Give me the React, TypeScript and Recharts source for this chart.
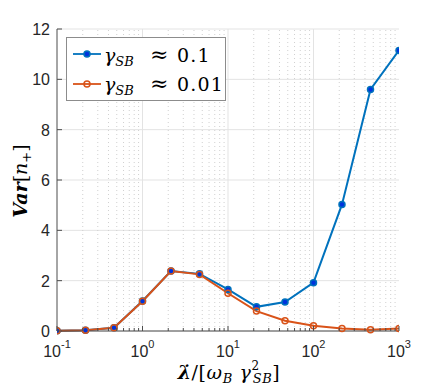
import {
  CartesianGrid,
  Line,
  LineChart,
  ReferenceLine,
  XAxis,
  YAxis,
} from "recharts";

// lambda-dot values, 3 points per decade
const rates = [0.1, 0.2154, 0.4642, 1, 2.154, 4.642, 10, 21.54, 46.42, 100, 215.4, 464.2, 1000];
const varHigh = [0.01, 0.03, 0.13, 1.19, 2.38, 2.27, 1.65, 0.96, 1.15, 1.92, 5.03, 9.6, 11.15];
const varLow = [0.01, 0.03, 0.13, 1.18, 2.38, 2.25, 1.5, 0.79, 0.41, 0.21, 0.1, 0.05, 0.1];

const decadeTicks = [0.1, 1, 10, 100, 1000];
const decadeExps = ["-1", "0", "1", "2", "3"];
const minorTicks = [
  0.2, 0.3, 0.4, 0.5, 0.6, 0.7, 0.8, 0.9,
  2, 3, 4, 5, 6, 7, 8, 9,
  20, 30, 40, 50, 60, 70, 80, 90,
  200, 300, 400, 500, 600, 700, 800, 900,
];
const yTicks = [0, 2, 4, 6, 8, 10, 12];
const legendLabels = ["0.1", "0.01"];

const BLUE = "#0072BD";
const ORANGE = "#D95319";
const AXIS = "#4d4d4d";
const SANS = "'Liberation Sans', Arial, sans-serif";
const SERIF = "'DejaVu Serif', serif";

const data = rates.map((r, i) => ({ rate: r, high: varHigh[i], low: varLow[i] }));
const allXTicks = [...decadeTicks, ...minorTicks].sort((a, b) => a - b);

function BottomTick({ x, y, payload }: any) {
  const idx = decadeTicks.indexOf(payload.value);
  const major = idx >= 0;
  return (
    <g>
      <line x1={x} x2={x} y1={y} y2={y - (major ? 5 : 3)} stroke={AXIS} />
      {major && (
        <text x={x} y={y + 26} textAnchor="middle" fontFamily={SANS} fontSize={16} fill="#262626">
          10
          <tspan dy={-9} fontSize={11}>
            {decadeExps[idx]}
          </tspan>
        </text>
      )}
    </g>
  );
}

function TopTick({ x, y, payload }: any) {
  const major = decadeTicks.includes(payload.value);
  return <line x1={x} x2={x} y1={y} y2={y + (major ? 5 : 3)} stroke={AXIS} />;
}

function LeftTick({ x, y, payload }: any) {
  return (
    <g>
      <line x1={x} x2={x + 5} y1={y} y2={y} stroke={AXIS} />
      <text x={x - 7} y={y + 6} textAnchor="end" fontFamily={SANS} fontSize={16} fill="#262626">
        {payload.value}
      </text>
    </g>
  );
}

function RightTick({ x, y }: any) {
  return <line x1={x} x2={x - 5} y1={y} y2={y} stroke={AXIS} />;
}

function XLabel({ viewBox }: any) {
  const { x, y, width } = viewBox;
  return (
    <text
      x={x + width / 2 + 1}
      y={y + 48}
      textAnchor="middle"
      fontFamily={SERIF}
      fontSize={19}
      letterSpacing={0.6}
      fill="#000"
    >
      <tspan fontWeight="bold" fontStyle="italic">λ̇</tspan>
      <tspan>/[</tspan>
      <tspan fontStyle="italic">ω</tspan>
      <tspan fontStyle="italic" fontSize={13} dy={4}>B</tspan>
      <tspan dy={-4}> </tspan>
      <tspan fontStyle="italic">γ</tspan>
      <tspan fontSize={12} dy={-9}>2</tspan>
      <tspan fontStyle="italic" fontSize={13} dx={-7} dy={13}>SB</tspan>
      <tspan dy={-4}>]</tspan>
    </text>
  );
}

function YLabel() {
  return (
    <text
      x={0}
      y={0}
      transform="translate(27, 181) rotate(-90)"
      textAnchor="middle"
      fontFamily={SERIF}
      fontSize={19}
      fill="#000"
    >
      <tspan fontWeight="bold" fontStyle="italic">Var</tspan>
      <tspan>[</tspan>
      <tspan fontStyle="italic">n</tspan>
      <tspan fontSize={13} dy={4}>+</tspan>
      <tspan dy={-4}>]</tspan>
    </text>
  );
}

function LegendBox() {
  const styles = [
    { color: BLUE, fill: "#0033dd" },
    { color: ORANGE, fill: "none" },
  ];
  return (
    <svg width={161} height={65} style={{ position: "absolute", left: 66, top: 37 }}>
      <rect x={0.5} y={0.5} width={159} height={63} fill="#fff" stroke="#8c8c8c" />
      {legendLabels.map((label, i) => {
        const cy = 17 + i * 30;
        const base = 25 + i * 29;
        return (
          <g key={label}>
            <line x1={7} x2={35} y1={cy} y2={cy} stroke={styles[i].color} strokeWidth={1.8} />
            <circle cx={21} cy={cy} r={3} fill={styles[i].fill} stroke={styles[i].color} strokeWidth={1.5} />
            <text x={38} y={base} fontFamily={SERIF} fontSize={19} fill="#000">
              <tspan fontStyle="italic">γ</tspan>
              <tspan fontStyle="italic" fontSize={13} dy={4}>SB</tspan>
            </text>
            <text x={84} y={base} fontFamily={SERIF} fontSize={22} fill="#000">≈</text>
            <text x={111} y={base} fontFamily={SERIF} fontSize={19} letterSpacing={1.2} fill="#000">
              {label}
            </text>
          </g>
        );
      })}
    </svg>
  );
}

export default function App() {
  return (
    <div style={{ position: "absolute", left: 0, top: 0, width: 440, height: 387, background: "#fff" }}>
      <LineChart width={440} height={387} data={data} margin={{ top: 29, right: 41, bottom: 0, left: 0 }}>
        <CartesianGrid vertical={false} stroke="#e3e3e3" strokeWidth={1} />
        {minorTicks.map((t) => (
          <ReferenceLine key={`m${t}`} x={t} stroke="#d0d0d0" strokeDasharray="1 3" />
        ))}
        {[1, 10, 100].map((t) => (
          <ReferenceLine key={`M${t}`} x={t} stroke="#e3e3e3" />
        ))}
        <XAxis
          dataKey="rate"
          type="number"
          scale="log"
          domain={[0.1, 1000]}
          ticks={allXTicks}
          interval={0}
          allowDataOverflow
          height={56}
          tickSize={0}
          tickMargin={0}
          tickLine={false}
          axisLine={{ stroke: AXIS }}
          tick={<BottomTick />}
          label={<XLabel />}
        />
        <XAxis
          xAxisId="top"
          dataKey="rate"
          orientation="top"
          type="number"
          scale="log"
          domain={[0.1, 1000]}
          ticks={allXTicks}
          interval={0}
          allowDataOverflow
          height={0}
          tickSize={0}
          tickMargin={0}
          tickLine={false}
          axisLine={{ stroke: AXIS }}
          tick={<TopTick />}
        />
        <YAxis
          type="number"
          domain={[0, 12]}
          ticks={yTicks}
          interval={0}
          width={57}
          tickSize={0}
          tickMargin={0}
          tickLine={false}
          axisLine={{ stroke: AXIS }}
          tick={<LeftTick />}
          label={<YLabel />}
        />
        <YAxis
          yAxisId="right"
          orientation="right"
          type="number"
          domain={[0, 12]}
          ticks={yTicks}
          interval={0}
          width={0}
          tickSize={0}
          tickMargin={0}
          tickLine={false}
          axisLine={{ stroke: AXIS }}
          tick={<RightTick />}
        />
        <Line
          dataKey="high"
          stroke={BLUE}
          strokeWidth={2}
          dot={{ r: 3, fill: "#0033dd", stroke: BLUE, strokeWidth: 1.5 }}
          isAnimationActive={false}
        />
        <Line
          dataKey="low"
          stroke={ORANGE}
          strokeWidth={2}
          dot={{ r: 3, fill: "none", stroke: ORANGE, strokeWidth: 1.5 }}
          isAnimationActive={false}
        />
      </LineChart>
      <LegendBox />
    </div>
  );
}
